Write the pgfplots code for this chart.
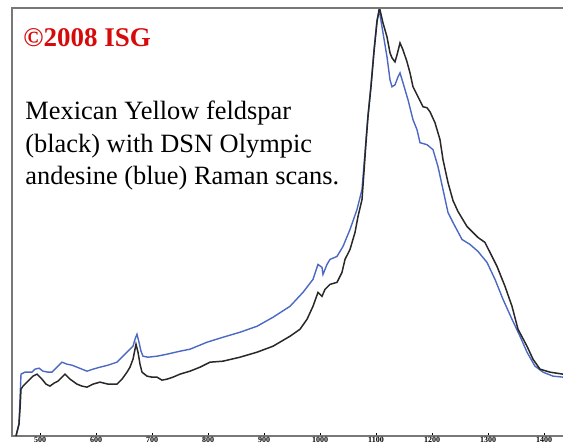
\documentclass[border=0pt]{standalone}
\usepackage{fontspec}
\setmainfont{Liberation Serif}
\usepackage{pgfplots}
\pgfplotsset{compat=1.18}
\usepackage{pgfplotstable}

\definecolor{scanblue}{RGB}{75,105,195}
\definecolor{scanblack}{RGB}{40,40,40}
\definecolor{isgred}{RGB}{215,10,10}
\definecolor{frame}{RGB}{120,120,120}

% x = position along the scan (axis units), y = signal height
\pgfplotstableread{
x y
16 0
19 12
20 27
21 47
23 50
27 54
33 60
37 62
42 57
46 52
50 50
54 53
58 55
62 59
65 62
70 57
77 52
82 50
87 49
93 52
100 54
108 52
117 52
122 57
127 64
130 69
133 77
136 92
138 84
140 72
142 64
147 60
152 59
157 59
162 56
167 57
173 59
180 62
190 65
200 69
210 74
223 75
240 79
257 84
273 90
290 100
300 107
307 117
313 130
318 144
322 140
325 147
330 152
337 154
342 164
345 177
350 187
355 204
358 220
362 237
364 265
366 294
368 320
371 350
374 385
377 415
379 427
380 427
383 414
387 400
390 384
392 379
395 375
397 382
400 394
403 387
407 375
410 364
413 350
418 340
423 330
427 329
430 325
435 314
440 297
443 277
448 254
453 236
458 225
467 210
472 205
478 199
485 194
490 184
497 170
505 150
512 130
518 107
527 90
533 77
540 67
550 64
563 62
}\blackscan

\pgfplotstableread{
x y
16 0
19 12
20 37
21 62
25 64
32 64
35 67
39 68
43 65
48 64
52 64
57 69
62 74
67 72
72 71
77 69
82 67
87 65
93 67
100 69
108 71
117 74
122 79
127 84
130 87
133 90
135 97
137 102
139 94
141 85
143 80
148 79
157 80
167 82
180 85
190 87
207 94
223 99
240 104
257 110
273 119
290 130
303 144
313 157
318 172
322 169
323 162
327 172
330 177
337 180
343 190
350 207
357 227
362 247
364 272
366 297
368 322
371 352
374 387
377 417
379 425
380 422
383 404
387 380
390 357
392 350
395 352
398 360
400 364
403 354
408 337
413 317
417 307
420 294
427 292
433 287
438 270
443 247
448 224
453 214
462 197
470 192
478 185
487 174
495 157
503 137
512 117
520 100
527 84
535 70
543 64
553 60
563 59
}\bluescan

\begin{document}
\begin{tikzpicture}
\begin{axis}[
    name=ax,
    scale only axis,
    width=277pt, height=214pt,
    xmin=12, xmax=566, ymin=0, ymax=429,
    axis line style={frame, line width=0.9pt},
    xtick={40,96,152,208,264,320,376,432,488,544},
    xticklabels={500,600,700,800,900,1000,1100,1200,1300,1400},
    xtick pos=bottom,
    major tick length=1.5pt,
    tick style={black},
    ytick=\empty,
    /pgf/number format/assume math mode=true,
    xticklabel style={font=\fontsize{4}{4}\selectfont\bfseries, inner sep=0.4pt},
  ]
  \addplot[scanblue, line width=0.7pt] table[x=x, y=y] {\bluescan};
  \addplot[scanblack, line width=0.75pt] table[x=x, y=y] {\blackscan};

  \node[anchor=base west, inner sep=0, text=isgred,
        font=\fontsize{13.5}{16}\selectfont\bfseries] at (axis cs:23,390) {©2008 ISG};
  \node[anchor=base west, inner sep=0, font=\fontsize{13.2}{16}\selectfont]
        at (axis cs:25,317) {Mexican Yellow feldspar};
  \node[anchor=base west, inner sep=0, font=\fontsize{13.2}{16}\selectfont]
        at (axis cs:25,284) {(black) with DSN Olympic};
  \node[anchor=base west, inner sep=0, font=\fontsize{13.2}{16}\selectfont]
        at (axis cs:25,252) {andesine (blue) Raman scans.};
\end{axis}
\pgfresetboundingbox
\useasboundingbox ([shift={(-6pt,-5pt)}]ax.south west) rectangle ([shift={(275.5pt,4pt)}]ax.north west);
\end{tikzpicture}
\end{document}
